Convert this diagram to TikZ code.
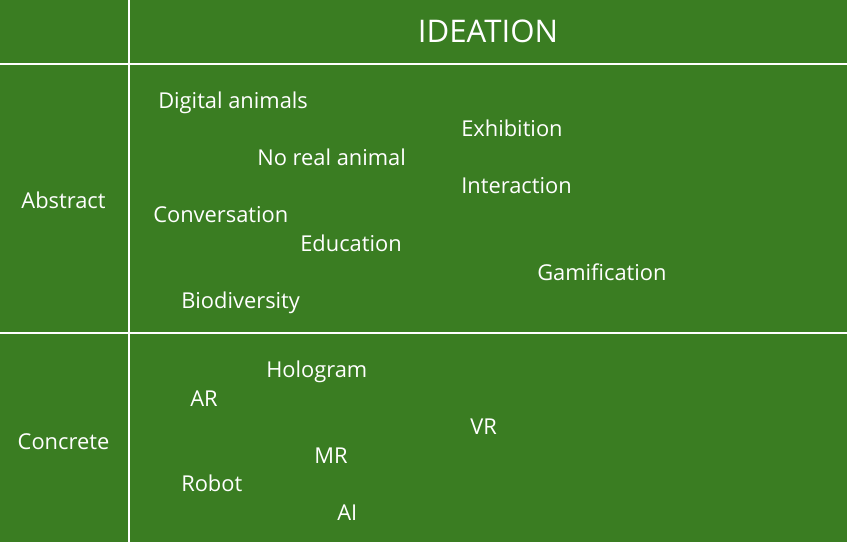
\documentclass[tikz,border=0pt]{standalone}
\usepackage{fontspec}
\setmainfont{Open Sans}
\definecolor{bg}{HTML}{3A7D22}
\begin{document}
\begin{tikzpicture}[x=0.75pt,y=-0.75pt,
  lbl/.style={text=white,inner sep=0pt,anchor=base west,font=\fontsize{16.4}{18}\selectfont},
  side/.style={text=white,inner sep=0pt,anchor=base,font=\fontsize{16.4}{18}\selectfont},
  grid/.style={draw=white,line width=1.5pt}]
\fill[bg] (0,0) rectangle (847,542);
\useasboundingbox (0,0) rectangle (847,542);
\coordinate (vt) at (129,0); \coordinate (vb) at (129,542);
\coordinate (h1l) at (0,64); \coordinate (h1r) at (847,64);
\coordinate (h2l) at (0,333); \coordinate (h2r) at (847,333);
\draw[grid] (vt) -- (vb);
\draw[grid] (h1l) -- (h1r);
\draw[grid] (h2l) -- (h2r);
\node[text=white,inner sep=0pt,anchor=base,font=\fontsize{23.4}{26}\selectfont] (title) at (488,43) {IDEATION};
\node[side] (abs) at (63.5,209) {Abstract};
\node[side] (con) at (63.5,449) {Concrete};
\node[lbl] (n1) at (158,109) {Digital animals};
\node[lbl] (n2) at (461,137) {Exhibition};
\node[lbl] (n3) at (257,166) {No real animal};
\node[lbl] (n4) at (461,194) {Interaction};
\node[lbl] (n5) at (153,223) {Conversation};
\node[lbl] (n6) at (300,251) {Education};
\node[lbl] (n7) at (537,280) {Gamification};
\node[lbl] (n8) at (181,308) {Biodiversity};
\node[lbl] (n9) at (266,377) {Hologram};
\node[lbl] (n10) at (190,406) {AR};
\node[lbl] (n11) at (470,434) {VR};
\node[lbl] (n12) at (314,463) {MR};
\node[lbl] (n13) at (181,491) {Robot};
\node[lbl] (n14) at (337,520) {AI};
\end{tikzpicture}
\end{document}
